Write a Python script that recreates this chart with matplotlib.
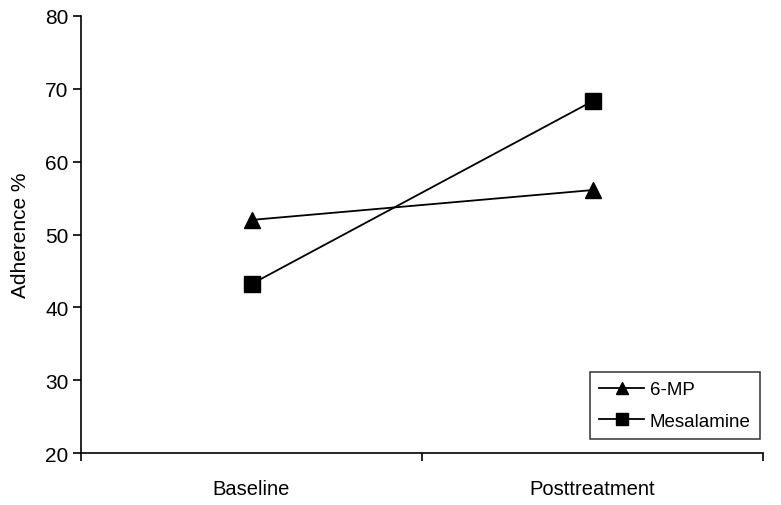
import matplotlib
matplotlib.use("Agg")
import matplotlib.pyplot as plt

categories = ["Baseline", "Posttreatment"]
mp6 = [52.0, 56.1]
mesalamine = [43.2, 68.3]
yticks = [20, 30, 40, 50, 60, 70, 80]

plt.rcParams['font.family'] = ['Liberation Sans', 'DejaVu Sans']
fig = plt.figure(figsize=(7.81, 5.06), dpi=100)
L, R, T, B = 81, 763, 17, 454
ax = fig.add_axes([L/781, 1 - B/506, (R-L)/781, (B-T)/506])

x = list(range(len(categories)))
ax.plot(x, mp6, color='black', lw=1.3, marker='^', ms=12, label='6-MP')
ax.plot(x, mesalamine, color='black', lw=1.3, marker='s', ms=11, label='Mesalamine')

ax.set_xlim(-0.5, 1.5)
ax.set_ylim(20, 80)
ax.set_yticks(yticks)
ax.set_xticks([-0.5, 0.5, 1.5])
ax.set_xticklabels([])
ax.set_xticks(x, minor=True)
ax.set_xticklabels(categories, minor=True)
ax.tick_params(axis='x', which='minor', length=0, pad=19, labelsize=14.5)
ax.tick_params(axis='x', which='major', direction='out', length=6, width=1.2)
ax.tick_params(axis='y', direction='out', length=6, width=1.2, labelsize=15, pad=3)
for s in ['top', 'right']:
    ax.spines[s].set_visible(False)
for s in ['left', 'bottom']:
    ax.spines[s].set_linewidth(1.2)
ax.set_ylabel('Adherence %', fontsize=15, labelpad=11)

leg = ax.legend(loc='lower right', bbox_to_anchor=(760/781, 1 - 440/506), bbox_transform=fig.transFigure,
                frameon=True, fancybox=False, edgecolor='black', fontsize=13.5, handlelength=2.4,
                borderpad=0.5, labelspacing=0.75, handletextpad=0.3, markerscale=0.75,
                borderaxespad=0)
leg.get_frame().set_linewidth(1.1)

fig.savefig('out.png', dpi=100)
